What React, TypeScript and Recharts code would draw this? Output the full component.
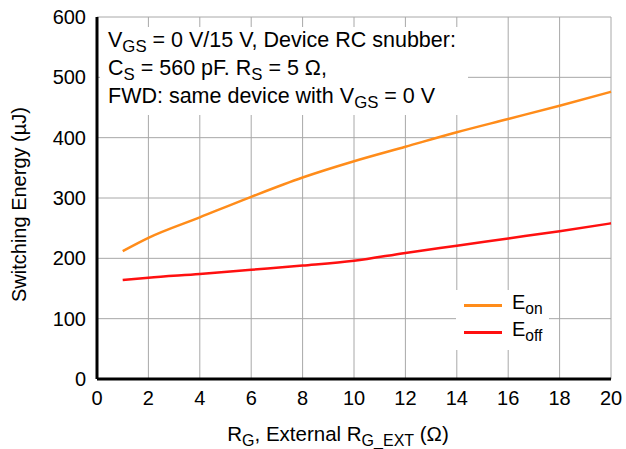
import { LineChart, Line, XAxis, YAxis, CartesianGrid } from 'recharts'

// R_G (Ω)
const rg = [1, 2, 4, 6, 8, 10, 12, 14, 16, 18, 20]
// switching energy (µJ)
const eOn = [212, 234, 268, 302, 334, 361, 385, 409, 431, 453, 476]
const eOff = [164, 168, 174, 181, 188, 196, 209, 221, 233, 245, 258]

const xTicks = [0, 2, 4, 6, 8, 10, 12, 14, 16, 18, 20]
const yTicks = [0, 100, 200, 300, 400, 500, 600]

const data = rg.map((r, i) => ({ rg: r, eon: eOn[i], eoff: eOff[i] }))

const FONT = '"Liberation Sans", Arial, Helvetica, sans-serif'
const ORANGE = '#ff8c1a'
const RED = '#ff1010'

const sub = { fontSize: '0.78em', position: 'relative' as const, top: '0.3em' }

// leyenda con subíndices
function LegendBox() {
  const rows = [
    { color: ORANGE, s: 'on' },
    { color: RED, s: 'off' },
  ]
  return (
    <div style={{ position: 'absolute', left: 456, top: 290, background: '#fff', padding: '2px 6px 4px 8px', fontSize: 20, color: '#000' }}>
      {rows.map((r) => (
        <div key={r.s} style={{ display: 'flex', alignItems: 'center', height: 27 }}>
          <span style={{ display: 'inline-block', width: 38, height: 2.5, background: r.color, marginRight: 10 }} />
          <span style={{ position: 'relative', top: -3 }}>E<span style={sub}>{r.s}</span></span>
        </div>
      ))}
    </div>
  )
}

function XTitle() {
  return (
    <text x={338} y={441} textAnchor="middle" fontSize={20.5} fontFamily={FONT} fill="#000">
      R<tspan fontSize={16} dy={5}>G</tspan>
      <tspan dy={-5}>, External R</tspan>
      <tspan fontSize={16} dy={5}>G_EXT</tspan>
      <tspan dy={-5}> (Ω)</tspan>
    </text>
  )
}

export default function App() {
  return (
    <div style={{ position: 'absolute', left: 0, top: 0, width: 626, height: 449, background: '#fff', fontFamily: FONT }}>
      <LineChart width={626} height={449} data={data} margin={{ top: 17, right: 15, left: 0, bottom: 0 }}>
        <CartesianGrid stroke="#a8a8a8" strokeWidth={1} />
        <XAxis
          dataKey="rg"
          type="number"
          domain={[0, 20]}
          ticks={xTicks}
          height={70}
          tickLine={false}
          axisLine={{ stroke: '#000', strokeWidth: 3 }}
          tick={{ fontSize: 20, fill: '#000', fontFamily: FONT }}
          tickMargin={6}
          label={{ content: () => <XTitle /> }}
        />
        <YAxis
          type="number"
          domain={[0, 600]}
          ticks={yTicks}
          width={97}
          tickLine={false}
          axisLine={{ stroke: '#000', strokeWidth: 3 }}
          tick={{ fontSize: 20, fill: '#000', fontFamily: FONT }}
          tickMargin={5}
          label={{ value: 'Switching Energy (µJ)', angle: -90, position: 'insideLeft', dx: 14, dy: 104, fontSize: 20, fill: '#000', fontFamily: FONT }}
        />
        <Line dataKey="eon" name="Eon" stroke={ORANGE} strokeWidth={2.5} dot={false} type="monotone" isAnimationActive={false} />
        <Line dataKey="eoff" name="Eoff" stroke={RED} strokeWidth={2.5} dot={false} type="monotone" isAnimationActive={false} />
      </LineChart>
      <LegendBox />
      <div
        style={{
          position: 'absolute', left: 100, top: 27, background: '#fff', padding: '0 12px 4px 8px',
          fontSize: 21.5, lineHeight: '27px', color: '#000', whiteSpace: 'nowrap',
        }}
      >
        <div>V<span style={sub}>GS</span> = 0 V/15 V, Device RC snubber:</div>
        <div>C<span style={sub}>S</span> = 560 pF. R<span style={sub}>S</span> = 5 Ω,</div>
        <div>FWD: same device with V<span style={sub}>GS</span> = 0 V</div>
      </div>
    </div>
  )
}
